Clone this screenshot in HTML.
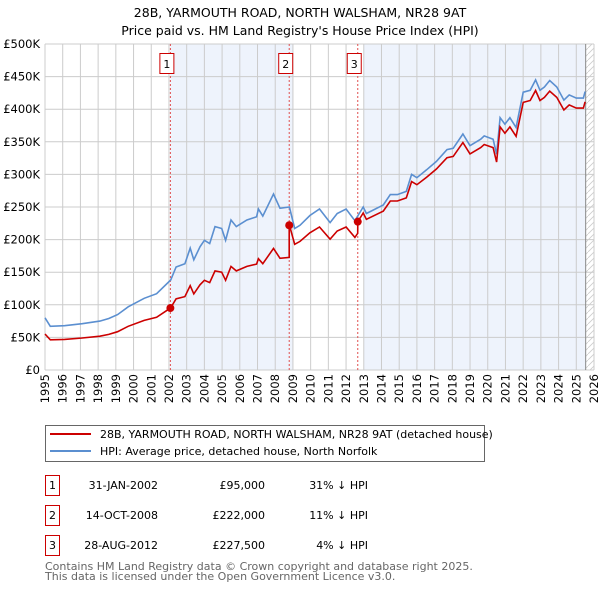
<!DOCTYPE html>
<html><head><meta charset="utf-8"><style>
body{margin:0;background:#fff;font-family:"DejaVu Sans","Liberation Sans",sans-serif;}
svg text{font-family:"DejaVu Sans","Liberation Sans",sans-serif;}
</style></head><body>
<svg id="c" width="600" height="590" xmlns="http://www.w3.org/2000/svg">
<text x="300" y="17" text-anchor="middle" font-size="12.5" fill="#000">28B, YARMOUTH ROAD, NORTH WALSHAM, NR28 9AT</text>
<text x="300" y="35" text-anchor="middle" font-size="12.5" fill="#000">Price paid vs. HM Land Registry's House Price Index (HPI)</text>
<g id="plot"></g>
<g>
<rect x="45.5" y="425.5" width="439" height="36" fill="#fff" stroke="#666"/>
<line x1="50" y1="434" x2="91" y2="434" stroke="#cc0000" stroke-width="2"/>
<text x="100" y="438" font-size="11">28B, YARMOUTH ROAD, NORTH WALSHAM, NR28 9AT (detached house)</text>
<line x1="50" y1="451" x2="91" y2="451" stroke="#5b8fd0" stroke-width="2"/>
<text x="100" y="455" font-size="11">HPI: Average price, detached house, North Norfolk</text>
</g>
<g id="table" font-size="11"></g>
<text x="45" y="570" font-size="11" fill="#666">Contains HM Land Registry data © Crown copyright and database right 2025.</text>
<text x="45" y="580" font-size="11" fill="#666">This data is licensed under the Open Government Licence v3.0.</text>
</svg>
<script>
const hpiYears=[1995.0,1995.3,1996.1,1997.1,1998.1,1998.6,1999.1,1999.7,2000.6,2001.3,2002.1,2002.4,2002.9,2003.2,2003.4,2003.75,2004.0,2004.3,2004.6,2004.98,2005.2,2005.5,2005.8,2006.4,2006.95,2007.05,2007.3,2007.9,2008.27,2008.8,2009.1,2009.4,2009.96,2010.5,2011.1,2011.5,2012.0,2012.5,2012.97,2013.15,2014.1,2014.5,2014.9,2015.4,2015.7,2016.0,2016.55,2017.1,2017.7,2018.05,2018.6,2019.0,2019.6,2019.8,2020.3,2020.5,2020.7,2020.97,2021.25,2021.6,2022.0,2022.4,2022.7,2022.95,2023.2,2023.5,2023.9,2024.3,2024.6,2025.0,2025.4,2025.5];
const hpiValues=[80,67,68,71,75,79,85,97,110,117,138,158,163,187,169,189,199,194,220,217,199,230,220,230,235,247,236,270,248,250,217,222,237,247,226,240,247,229,250,240,253,269,269,274,300,295,307,320,338,340,362,344,354,359,354,331,387,377,387,372,426,429,445,429,434,444,434,414,422,417,417,427];
const saleLabels=["1","2","3"];
const saleDates=[2002.08,2008.79,2012.66];
const saleDateText=["31-JAN-2002","14-OCT-2008","28-AUG-2012"];
const salePrices=[95000,222000,227500];
const salePriceText=["£95,000","£222,000","£227,500"];
const salePctText=["31% ↓ HPI","11% ↓ HPI","4% ↓ HPI"];
const yTicks=[0,50,100,150,200,250,300,350,400,450,500];
const yTickLabels=["£0","£50K","£100K","£150K","£200K","£250K","£300K","£350K","£400K","£450K","£500K"];
const xTicks=[1995,1996,1997,1998,1999,2000,2001,2002,2003,2004,2005,2006,2007,2008,2009,2010,2011,2012,2013,2014,2015,2016,2017,2018,2019,2020,2021,2022,2023,2024,2025,2026];

const NS="http://www.w3.org/2000/svg";
const L=45,R=594,T=44,B=370,X0=1995,X1=2026,Y1=500;
const xs=v=>L+(v-X0)/(X1-X0)*(R-L);
const ys=v=>B-v/Y1*(B-T);
function mk(tag,attrs,parent){const e=document.createElementNS(NS,tag);for(const k in attrs)e.setAttribute(k,attrs[k]);parent.appendChild(e);return e;}
function hpiAt(t){for(let i=0;i<hpiYears.length-1;i++){if(t>=hpiYears[i]&&t<=hpiYears[i+1]){const f=(t-hpiYears[i])/(hpiYears[i+1]-hpiYears[i]);return hpiValues[i]+f*(hpiValues[i+1]-hpiValues[i]);}}return hpiValues[hpiValues.length-1];}
const g=document.getElementById('plot');
const sh1=mk('rect',{x:xs(saleDates[0]),y:T,width:xs(2009.0)-xs(saleDates[0]),height:B-T,fill:'#eef3fc'},g);


const sh2=mk('rect',{x:xs(2013.0),y:T,width:xs(2025.53)-xs(2013.0),height:B-T,fill:'#eef3fc'},g);


const defs=mk('defs',{},g);
const pat=mk('pattern',{id:'hatch',width:6,height:6,patternUnits:'userSpaceOnUse'},defs);
mk('path',{d:'M0,6 L6,0',stroke:'#ccc','stroke-width':0.8},pat);
const hr=mk('rect',{x:xs(2025.53),y:T,width:R-xs(2025.53),height:B-T,fill:'url(#hatch)'},g);


yTicks.forEach((v,i)=>{
 const ln=mk('line',{x1:L,x2:R,y1:ys(v),y2:ys(v),stroke:'#ccc','stroke-width':1},g);
 
 
 const t=mk('text',{x:L-5,y:ys(v)+4,'text-anchor':'end','font-size':11.5},g);
 t.textContent=yTickLabels[i];
 
 
});
xTicks.forEach(v=>{
 const ln=mk('line',{x1:xs(v),x2:xs(v),y1:T,y2:B,stroke:'#ccc','stroke-width':1},g);
 
 
 const x=xs(v)+4,y=374;
 const t=mk('text',{x:x,y:y,'text-anchor':'end','font-size':11.5,transform:'rotate(-90 '+x+' '+y+')'},g);
 t.textContent=v;
 
 
});
const endl=mk('line',{x1:xs(2025.53),x2:xs(2025.53),y1:T,y2:B,stroke:'#888','stroke-width':1},g);


saleDates.forEach((d,i)=>{
 const ln=mk('line',{x1:xs(d),x2:xs(d),y1:T,y2:B,stroke:'#e05050','stroke-width':1,'stroke-dasharray':'2,2'},g);
 
 
 const bx=mk('rect',{x:xs(d)-10.5,y:53.5,width:14,height:20,fill:'#fff',stroke:'#cc0000'},g);
 
 
 const t=mk('text',{x:xs(d)-3.5,y:68,'text-anchor':'middle','font-size':11},g);
 t.textContent=saleLabels[i];
 
 
});
const hp=hpiYears.map((y,i)=>xs(y).toFixed(1)+','+ys(hpiValues[i]).toFixed(1)).join(' ');
const hl=mk('polyline',{points:hp,fill:'none',stroke:'#5b8fd0','stroke-width':1.6},g);


function redAt(t){let k=0;for(let i=0;i<saleDates.length;i++)if(t>=saleDates[i])k=i;return salePrices[k]/1000*hpiAt(t)/hpiAt(saleDates[k]);}
let pts=[];let times=hpiYears.slice();saleDates.forEach(d=>{times.push(d-0.001);times.push(d);});times.sort((a,b)=>a-b);
times.forEach(t=>pts.push(xs(t).toFixed(1)+','+ys(redAt(t)).toFixed(1)));
const rl=mk('polyline',{points:pts.join(' '),fill:'none',stroke:'#cc0000','stroke-width':1.6},g);


saleDates.forEach((d,i)=>{
 const c=mk('circle',{cx:xs(d),cy:ys(salePrices[i]/1000),r:4,fill:'#cc0000'},g);
 
 
});
const tb=document.getElementById('table');
saleDates.forEach((d,i)=>{
 const y0=475+i*30;
 const bx=mk('rect',{x:45.5,y:y0+0.5,width:14,height:20,fill:'#fff',stroke:'#cc0000'},tb);
 
 
 const a=mk('text',{x:52.5,y:y0+14,'text-anchor':'middle'},tb);a.textContent=saleLabels[i];
 
 
 const b=mk('text',{x:158,y:y0+14,'text-anchor':'end'},tb);b.textContent=saleDateText[i];
 
 
 const c=mk('text',{x:265,y:y0+14,'text-anchor':'end'},tb);c.textContent=salePriceText[i];
 
 
 const e=mk('text',{x:368,y:y0+14,'text-anchor':'end'},tb);e.textContent=salePctText[i];
 
 
});
</script>
</body></html>
